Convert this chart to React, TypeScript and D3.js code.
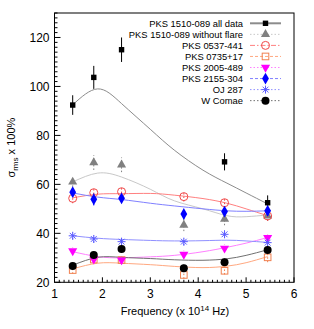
import * as d3 from 'd3';

const W = 314,
    H = 329;
const FRAME = { left: 54.5, right: 294, top: 13, bottom: 282.3 };

// frequencies (x 10^14 Hz)
const FREQ = [1.38, 1.82, 2.4, 3.7, 4.55, 5.45];
// sample x positions of the fitted curves
const FIT_X = [1.38, 1.9, 2.4, 3.0, 3.5, 4.1, 4.6, 5.0, 5.45];

const allData = [92.4, 103.7, 115, null, 69.2, 52.5];
const allDataErr = [4, 4.7, 5, 0, 3.5, 3];
const allDataFit = [92.5, 99, 93, 82.5, 74, 65.8, 60.5, 56.5, 52];

const noFlare = [61, 68.9, 68, 43.4, 45.8, 47.1];
const noFlareFit = [61, 64.6, 63, 58, 53.3, 50, 47.2, 46.8, 47.5];

const pks0537 = [54.3, 56.6, 57, 55, 52.5, 47.1];
const pks0537Fit = [54.5, 56, 56.2, 56.3, 55.6, 54.2, 52.3, 50, 47.2];

const pks0735 = [25, 29.3, 29.1, 23, 24.7, 30.2];
const pks0735Fit = [25.5, 27.8, 27.8, 27.2, 26.5, 26, 26.6, 28, 30.5];

const pks2005 = [32.8, 29.4, 29.1, 31.4, 33.9, 38.2];
const pks2005Fit = [32.5, 30.5, 30, 30.4, 31, 32.5, 34.3, 36, 38.3];

const pks2155 = [56.8, 53.9, 54.3, 47.9, 48.9, 49.2];
const pks2155Fit = [56.5, 54.8, 53.8, 52.3, 51.2, 50, 49.2, 49, 49.2];

const oj287 = [39, 37.7, 36.6, 36.6, 39.6, 36.2];
const oj287Fit = [39, 38, 37.5, 37.1, 36.9, 37, 37.2, 36.9, 36.3];

const wComae = [26.7, 31.2, 33.6, 25.7, 28.2, 33.2];
const wComaeFit = [27, 30.2, 30.2, 29.7, 29.2, 29, 29.6, 31, 33.3];

const X_TICKS = [1, 2, 3, 4, 5, 6];
const Y_TICKS = [20, 40, 60, 80, 100, 120];

type Marker = 'sq' | 'tri' | 'circ' | 'osq' | 'dtri' | 'diam' | 'ast' | 'dot';

type Series = {
    name: string;
    values: (number | null)[];
    err: number[];
    fit: number[];
    color: string;
    fitColor: string;
    marker: Marker;
    dash: string;
    errDash: string;
};

const SERIES: Series[] = [
    { name: 'PKS 1510-089 all data', values: allData, err: allDataErr, fit: allDataFit, color: '#000', fitColor: '#8c8c8c', marker: 'sq', dash: '', errDash: '' },
    { name: 'PKS 1510-089 without flare', values: noFlare, err: [2, 3, 3, 2.5, 2.5, 2], fit: noFlareFit, color: '#808080', fitColor: '#c8c8c8', marker: 'tri', dash: '1.5,2', errDash: '1.5,2' },
    { name: 'PKS 0537-441', values: pks0537, err: [2, 2, 2, 2, 2, 2], fit: pks0537Fit, color: '#f04848', fitColor: '#ff8080', marker: 'circ', dash: '5,2,1.5,2', errDash: '1.5,2' },
    { name: 'PKS 0735+17', values: pks0735, err: [1.5, 1.5, 1.5, 1.5, 1.5, 2], fit: pks0735Fit, color: '#f08050', fitColor: '#ffa880', marker: 'osq', dash: '3,2', errDash: '1.5,2' },
    { name: 'PKS 2005-489', values: pks2005, err: [1.5, 1.5, 1.5, 1.5, 1.5, 1.5], fit: pks2005Fit, color: '#ff00ff', fitColor: '#ff80ff', marker: 'dtri', dash: '1.5,2', errDash: '1.5,2' },
    { name: 'PKS 2155-304', values: pks2155, err: [2, 2.5, 2, 2, 2, 2], fit: pks2155Fit, color: '#0000ff', fitColor: '#8080ff', marker: 'diam', dash: '3,2', errDash: '1.5,2' },
    { name: 'OJ 287', values: oj287, err: [1.5, 1.5, 1.5, 1.5, 1.5, 1.5], fit: oj287Fit, color: '#5a5aff', fitColor: '#9090ff', marker: 'ast', dash: '1.5,2', errDash: '1.5,2' },
    { name: 'W Comae', values: wComae, err: [1.5, 1.5, 1.5, 1.5, 1.5, 1.5], fit: wComaeFit, color: '#000', fitColor: '#707070', marker: 'dot', dash: '1.5,2', errDash: '1.5,2' },
];

const FONT = '"Liberation Sans", Arial, Helvetica, sans-serif';

function MarkerShape({ m, x, y, color }: { m: Marker; x: number; y: number; color: string }) {
    const t = `translate(${x},${y})`;
    switch (m) {
        case 'sq':
            return <rect x={x - 2.7} y={y - 2.7} width={5.4} height={5.4} fill={color} />;
        case 'tri':
            return <path transform={t} d={d3.symbol(d3.symbolTriangle, 36)()!} fill={color} />;
        case 'dtri':
            return <path transform={`${t} rotate(180)`} d={d3.symbol(d3.symbolTriangle, 36)()!} fill={color} />;
        case 'circ':
            return <circle cx={x} cy={y} r={4} fill="none" stroke={color} strokeWidth={1} />;
        case 'osq':
            return <rect x={x - 3.3} y={y - 3.3} width={6.6} height={6.6} fill="none" stroke={color} strokeWidth={1} />;
        case 'diam':
            return <path transform={t} d={d3.symbol(d3.symbolDiamond, 40)()!} fill={color} />;
        case 'dot':
            return <circle cx={x} cy={y} r={4} fill={color} />;
        case 'ast': {
            const r = 4,
                q = 2.9;
            return (
                <path
                    transform={t}
                    d={`M${-r},0H${r}M0,${-r}V${r}M${-q},${-q}L${q},${q}M${-q},${q}L${q},${-q}`}
                    stroke={color}
                    strokeWidth={1}
                    fill="none"
                />
            );
        }
    }
}

export default function App() {
    const x = d3.scaleLinear().domain([1, 6]).range([FRAME.left, FRAME.right]);
    const y = d3.scaleLinear().domain([20, 130]).range([FRAME.bottom, FRAME.top]);

    const fitLine = d3
        .line<number>()
        .x((_, i) => x(FIT_X[i]))
        .y((d) => y(d))
        .curve(d3.curveNatural);

    const xMinor = d3.range(10, 60).map((d) => d / 10).filter((d) => Math.abs(d - Math.round(d)) > 1e-6);
    const yMinor = d3.range(20, 131, 2).filter((d) => d % 20 !== 0);

    const legX = 243,
        legY0 = 23.3,
        legDy = 11.05;

    return (
        <svg width={W} height={H} style={{ position: 'absolute', left: 0, top: 0, background: '#fff' }} fontFamily={FONT}>
            <rect width={W} height={H} fill="#fff" />
            {/* fitted curves */}
            {SERIES.map((s) => (
                <path key={s.name + 'fit'} d={fitLine(s.fit)!} fill="none" stroke={s.fitColor} strokeWidth={1} />
            ))}
            {/* error bars and markers */}
            {SERIES.map((s) => (
                <g key={s.name}>
                    {s.values.map((v, i) =>
                        v == null ? null : (
                            <line
                                key={'e' + i}
                                x1={x(FREQ[i])}
                                x2={x(FREQ[i])}
                                y1={y(v - s.err[i])}
                                y2={y(v + s.err[i])}
                                stroke={s.color}
                                strokeWidth={1}
                                strokeDasharray={s.errDash}
                            />
                        )
                    )}
                    {s.values.map((v, i) =>
                        v == null ? null : <MarkerShape key={'m' + i} m={s.marker} x={x(FREQ[i])} y={y(v)} color={s.color} />
                    )}
                </g>
            ))}
            {/* frame */}
            <rect
                x={FRAME.left}
                y={FRAME.top}
                width={FRAME.right - FRAME.left}
                height={FRAME.bottom - FRAME.top}
                fill="none"
                stroke="#000"
                strokeWidth={1}
            />
            {/* ticks */}
            {X_TICKS.map((t) => (
                <g key={'xt' + t}>
                    <line x1={x(t)} x2={x(t)} y1={FRAME.bottom} y2={FRAME.bottom - 5} stroke="#000" />
                    <text x={x(t)} y={297.5} fontSize={12} textAnchor="middle">
                        {t}
                    </text>
                </g>
            ))}
            {xMinor.map((t) => (
                <line key={'xm' + t} x1={x(t)} x2={x(t)} y1={FRAME.bottom} y2={FRAME.bottom - 2.5} stroke="#000" />
            ))}
            {Y_TICKS.map((t) => (
                <g key={'yt' + t}>
                    <line x1={FRAME.left} x2={FRAME.left + 6} y1={y(t)} y2={y(t)} stroke="#000" />
                    <text x={49.5} y={y(t)} dy="0.35em" fontSize={12} textAnchor="end">
                        {t}
                    </text>
                </g>
            ))}
            {yMinor.map((t) => (
                <line key={'ym' + t} x1={FRAME.left} x2={FRAME.left + 3} y1={y(t)} y2={y(t)} stroke="#000" />
            ))}
            {/* axis labels */}
            <text x={175} y={315} fontSize={11} textAnchor="middle">
                Frequency (x 10<tspan dy={-4} fontSize={8}>14</tspan>
                <tspan dy={4}> Hz)</tspan>
            </text>
            <text transform={`translate(15,${(FRAME.top + FRAME.bottom) / 2}) rotate(-90)`} fontSize={11} textAnchor="middle">
                σ<tspan dy={3} fontSize={8}>rms</tspan>
                <tspan dy={-3}> x 100%</tspan>
            </text>
            {/* legend */}
            {SERIES.map((s, i) => {
                const ly = legY0 + i * legDy;
                return (
                    <g key={'leg' + i}>
                        <text x={legX} y={ly} dy="0.35em" fontSize={9.4} textAnchor="end">
                            {s.name}
                        </text>
                        <line
                            x1={250}
                            x2={281}
                            y1={ly}
                            y2={ly}
                            stroke={i === 0 ? '#8c8c8c' : s.fitColor}
                            strokeWidth={i === 0 ? 2 : 1}
                            strokeDasharray={s.dash}
                        />
                        <MarkerShape m={s.marker} x={265.5} y={ly} color={s.color} />
                    </g>
                );
            })}
        </svg>
    );
}
